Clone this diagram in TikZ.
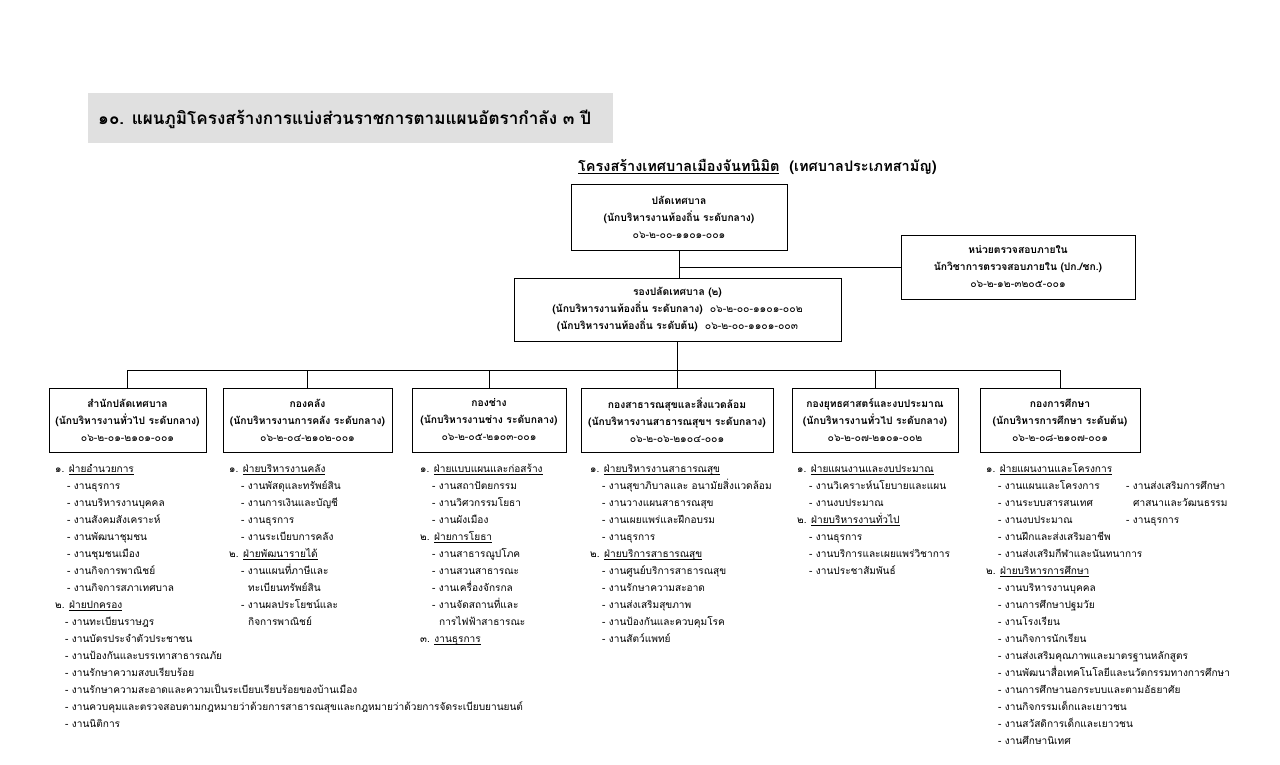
\documentclass[tikz,border=0pt]{standalone}
\usepackage{fontspec}
\setmainfont[Script=Thai]{Loma}
\definecolor{titlegray}{RGB}{224,224,224}
\newlength\thulw
\newcommand\thul[1]{\settowidth\thulw{#1}\rlap{\rule[-2pt]{\thulw}{0.5pt}}#1}
\newcommand\codef{\fontsize{10.5}{12}\selectfont\mdseries}
\newcommand\ind{\hspace*{12pt}}
\newcommand\indc{\hspace*{19pt}}
\begin{document}
\begin{tikzpicture}[x=1pt,y=-1pt,
  box/.style={draw, line width=0.9pt, inner sep=0pt, align=center,
    font=\bfseries\fontsize{10.3}{17}\selectfont},
  conn/.style={draw, line width=0.8pt},
  lst/.style={anchor=north west, inner sep=0pt, align=left,
    font=\fontsize{10.1}{17}\selectfont}]
\useasboundingbox (0,0) rectangle (1280,764);

% title
\node[fill=titlegray, minimum width=525pt, minimum height=50pt, inner sep=0pt] (ttlbox) at (350.5,118) {};
\node[anchor=west, inner sep=0pt, font=\bfseries\fontsize{17.1}{20}\selectfont] (ttl) at (98,119)
  {๑๐. แผนภูมิโครงสร้างการแบ่งส่วนราชการตามแผนอัตรากำลัง ๓ ปี};

\node[anchor=west, inner sep=0pt, font=\bfseries\fontsize{14.5}{16}\selectfont] (sub) at (578,167)
  {\thul{โครงสร้างเทศบาลเมืองจันทนิมิต}\ \ (เทศบาลประเภทสามัญ)};

% top boxes
\node[box, minimum width=216pt, minimum height=66pt] (p) at (679,217)
  {ปลัดเทศบาล\\(นักบริหารงานท้องถิ่น ระดับกลาง)\\{\codef ๐๖-๒-๐๐-๑๑๐๑-๐๐๑}};
\node[box, minimum width=234pt, minimum height=64pt] (a) at (1018,267)
  {หน่วยตรวจสอบภายใน\\นักวิชาการตรวจสอบภายใน (ปก./ชก.)\\{\codef ๐๖-๒-๑๒-๓๒๐๕-๐๐๑}};
\node[box, minimum width=327pt, minimum height=63pt] (r) at (677.5,309.5)
  {รองปลัดเทศบาล (๒)\\(นักบริหารงานท้องถิ่น ระดับกลาง)\ \ {\codef ๐๖-๒-๐๐-๑๑๐๑-๐๐๒}\\(นักบริหารงานท้องถิ่น ระดับต้น)\ \ {\codef ๐๖-๒-๐๐-๑๑๐๑-๐๐๓}};

% division boxes
\node[box, minimum width=157pt, minimum height=64pt] (k1) at (127.5,420)
  {สำนักปลัดเทศบาล\\(นักบริหารงานทั่วไป ระดับกลาง)\\{\codef ๐๖-๒-๐๑-๒๑๐๑-๐๐๑}};
\node[box, minimum width=169pt, minimum height=64pt] (k2) at (307.5,420)
  {กองคลัง\\(นักบริหารงานการคลัง ระดับกลาง)\\{\codef ๐๖-๒-๐๔-๒๑๐๒-๐๐๑}};
\node[box, minimum width=154pt, minimum height=64pt] (k3) at (489,420)
  {กองช่าง\\(นักบริหารงานช่าง ระดับกลาง)\\{\codef ๐๖-๒-๐๕-๒๑๐๓-๐๐๑}};
\node[box, minimum width=192pt, minimum height=64pt] (k4) at (677,420)
  {กองสาธารณสุขและสิ่งแวดล้อม\\(นักบริหารงานสาธารณสุขฯ ระดับกลาง)\\{\codef ๐๖-๒-๐๖-๒๑๐๔-๐๐๑}};
\node[box, minimum width=166pt, minimum height=64pt] (k5) at (875,420)
  {กองยุทธศาสตร์และงบประมาณ\\(นักบริหารงานทั่วไป ระดับกลาง)\\{\codef ๐๖-๒-๐๗-๒๑๐๑-๐๐๒}};
\node[box, minimum width=160pt, minimum height=64pt] (k6) at (1060,420)
  {กองการศึกษา\\(นักบริหารการศึกษา ระดับต้น)\\{\codef ๐๖-๒-๐๘-๒๑๐๗-๐๐๑}};

% connectors
\draw[conn] (p.south) -- (p.south |- r.north);
\draw[conn] (a.west) -- (a.west -| p.south);
\coordinate (bus) at (677.5,370);
\draw[conn] (r.south) -- (bus);
\draw[conn] (k1.north |- bus) -- (k6.north |- bus);
\foreach \i in {1,...,6} {\draw[conn] (k\i.north |- bus) -- (k\i.north);}

% lists
\node[lst] (l1) at (55,460.6) {\strut ๑. \thul{ฝ่ายอำนวยการ}\\
\ind - งานธุรการ\\
\ind - งานบริหารงานบุคคล\\
\ind - งานสังคมสังเคราะห์\\
\ind - งานพัฒนาชุมชน\\
\ind - งานชุมชนเมือง\\
\ind - งานกิจการพาณิชย์\\
\ind - งานกิจการสภาเทศบาล\\
๒. \thul{ฝ่ายปกครอง}\\
\hspace*{10pt}- งานทะเบียนราษฎร\\
\hspace*{10pt}- งานบัตรประจำตัวประชาชน\\
\hspace*{10pt}- งานป้องกันและบรรเทาสาธารณภัย\\
\hspace*{10pt}- งานรักษาความสงบเรียบร้อย\\
\hspace*{10pt}- งานรักษาความสะอาดและความเป็นระเบียบเรียบร้อยของบ้านเมือง\\
\hspace*{10pt}- งานควบคุมและตรวจสอบตามกฎหมายว่าด้วยการสาธารณสุขและกฎหมายว่าด้วยการจัดระเบียบยานยนต์\\
\hspace*{10pt}- งานนิติการ};

\node[lst] (l2) at (229,460.6) {\strut ๑. \thul{ฝ่ายบริหารงานคลัง}\\
\ind - งานพัสดุและทรัพย์สิน\\
\ind - งานการเงินและบัญชี\\
\ind - งานธุรการ\\
\ind - งานระเบียบการคลัง\\
๒. \thul{ฝ่ายพัฒนารายได้}\\
\ind - งานแผนที่ภาษีและ\\
\indc ทะเบียนทรัพย์สิน\\
\ind - งานผลประโยชน์และ\\
\indc กิจการพาณิชย์};

\node[lst] (l3) at (420,460.6) {\strut ๑. \thul{ฝ่ายแบบแผนและก่อสร้าง}\\
\ind - งานสถาปัตยกรรม\\
\ind - งานวิศวกรรมโยธา\\
\ind - งานผังเมือง\\
๒. \thul{ฝ่ายการโยธา}\\
\ind - งานสาธารณูปโภค\\
\ind - งานสวนสาธารณะ\\
\ind - งานเครื่องจักรกล\\
\ind - งานจัดสถานที่และ\\
\indc การไฟฟ้าสาธารณะ\\
๓. \thul{งานธุรการ}};

\node[lst] (l4) at (590,460.6) {\strut ๑. \thul{ฝ่ายบริหารงานสาธารณสุข}\\
\ind - งานสุขาภิบาลและ อนามัยสิ่งแวดล้อม\\
\ind - งานวางแผนสาธารณสุข\\
\ind - งานเผยแพร่และฝึกอบรม\\
\ind - งานธุรการ\\
๒. \thul{ฝ่ายบริการสาธารณสุข}\\
\ind - งานศูนย์บริการสาธารณสุข\\
\ind - งานรักษาความสะอาด\\
\ind - งานส่งเสริมสุขภาพ\\
\ind - งานป้องกันและควบคุมโรค\\
\ind - งานสัตว์แพทย์};

\node[lst] (l5) at (797,460.6) {\strut ๑. \thul{ฝ่ายแผนงานและงบประมาณ}\\
\ind - งานวิเคราะห์นโยบายและแผน\\
\ind - งานงบประมาณ\\
๒. \thul{ฝ่ายบริหารงานทั่วไป}\\
\ind - งานธุรการ\\
\ind - งานบริการและเผยแพร่วิชาการ\\
\ind - งานประชาสัมพันธ์};

\node[lst] (l6) at (986,460.6) {\strut ๑. \thul{ฝ่ายแผนงานและโครงการ}\\
\ind - งานแผนและโครงการ\\
\ind - งานระบบสารสนเทศ\\
\ind - งานงบประมาณ\\
\ind - งานฝึกและส่งเสริมอาชีพ\\
\ind - งานส่งเสริมกีฬาและนันทนาการ\\
๒. \thul{ฝ่ายบริหารการศึกษา}\\
\ind - งานบริหารงานบุคคล\\
\ind - งานการศึกษาปฐมวัย\\
\ind - งานโรงเรียน\\
\ind - งานกิจการนักเรียน\\
\ind - งานส่งเสริมคุณภาพและมาตรฐานหลักสูตร\\
\ind - งานพัฒนาสื่อเทคโนโลยีและนวัตกรรมทางการศึกษา\\
\ind - งานการศึกษานอกระบบและตามอัธยาศัย\\
\ind - งานกิจกรรมเด็กและเยาวชน\\
\ind - งานสวัสดิการเด็กและเยาวชน\\
\ind - งานศึกษานิเทศ};

\node[lst] (l6b) at (1126,477.6) {\strut - งานส่งเสริมการศึกษา\\
\hspace*{7pt}ศาสนาและวัฒนธรรม\\
- งานธุรการ};
\end{tikzpicture}
\end{document}
